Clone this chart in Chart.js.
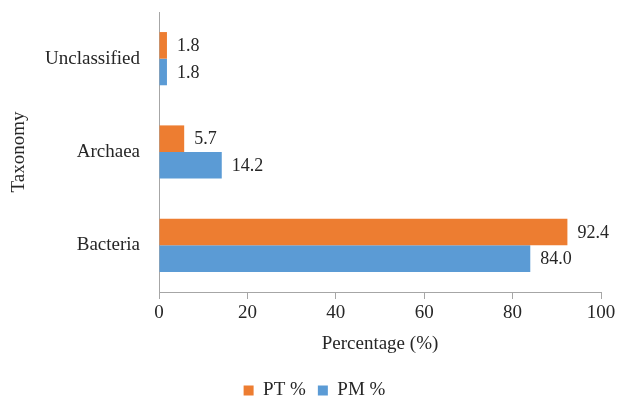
<!DOCTYPE html>
<html>
<head>
<meta charset="utf-8">
<script src="https://cdn.jsdelivr.net/npm/chart.js@4/dist/chart.umd.min.js"></script>
<style>
  html, body { margin: 0; padding: 0; background: #ffffff; }
  #wrap { width: 618px; height: 399px; }
</style>
</head>
<body>
<div id="wrap"><canvas id="chart" width="618" height="399"></canvas></div>
<script>
// Taxonomic composition, percentage of reads per sample group
const categories = ['Unclassified', 'Archaea', 'Bacteria'];
const ptValues = [1.8, 5.7, 92.4];
const pmValues = [1.8, 14.2, 84.0];
const xTicks = [0, 20, 40, 60, 80, 100];

const SERIF = '"Liberation Serif", "DejaVu Serif", serif';
const TEXT = '#262626';
const AXIS = '#a6a6a6';

// Writes each bar's value just past its end
const valueLabels = {
  id: 'valueLabels',
  afterDatasetsDraw(chart) {
    const ctx = chart.ctx;
    ctx.save();
    ctx.font = '18px ' + SERIF;
    ctx.fillStyle = TEXT;
    ctx.textAlign = 'left';
    ctx.textBaseline = 'middle';
    chart.data.datasets.forEach((ds, i) => {
      chart.getDatasetMeta(i).data.forEach((bar, j) => {
        ctx.fillText(ds.data[j].toFixed(1), bar.x + 10, bar.y + 1);
      });
    });
    ctx.restore();
  }
};

// Nudges the legend row so it sits centred under the plot rather than the canvas
const legendOffset = {
  id: 'legendOffset',
  afterLayout(chart) {
    const lg = chart.legend;
    if (lg) { lg.left += 14; lg.right += 14; }
  }
};

new Chart(document.getElementById('chart'), {
  type: 'bar',
  data: {
    labels: categories,
    datasets: [
      { label: 'PT %', data: ptValues, backgroundColor: '#ED7D31', borderWidth: 0 },
      { label: 'PM %', data: pmValues, backgroundColor: '#5B9BD5', borderWidth: 0 }
    ]
  },
  options: {
    indexAxis: 'y',
    responsive: false,
    animation: false,
    layout: { padding: { top: 12, right: 17, bottom: 0, left: 0 } },
    datasets: { bar: { barPercentage: 1.0, categoryPercentage: 0.57 } },
    scales: {
      x: {
        min: 0, max: 100,
        afterBuildTicks(scale) { scale.ticks = xTicks.map(v => ({ value: v })); },
        afterFit(scale) {
          scale.height = 77;
          scale.paddingLeft = 0;
          scale.paddingRight = 0;
        },
        grid: {
          display: true, drawOnChartArea: false, drawTicks: true,
          tickLength: 7, color: AXIS, lineWidth: 1
        },
        border: { display: true, color: AXIS, width: 1 },
        ticks: { color: TEXT, font: { family: SERIF, size: 19 }, padding: 3 },
        title: {
          display: true, text: 'Percentage (%)', color: TEXT,
          font: { family: SERIF, size: 19 }, padding: { top: 0, bottom: 14 }
        }
      },
      y: {
        afterFit(scale) {
          scale.width = 159;
          scale.paddingTop = 0;
          scale.paddingBottom = 0;
        },
        grid: { display: false, drawTicks: false },
        border: { display: true, color: AXIS, width: 1 },
        ticks: { color: TEXT, font: { family: SERIF, size: 19 }, padding: 19 },
        title: {
          display: true, text: 'Taxonomy', color: TEXT,
          font: { family: SERIF, size: 19 }, padding: { top: 8, bottom: 0 }
        }
      }
    },
    plugins: {
      legend: {
        position: 'bottom',
        maxHeight: 30,
        labels: {
          color: TEXT, font: { family: SERIF, size: 19 },
          boxWidth: 10, boxHeight: 10, padding: 12
        }
      },
      tooltip: { enabled: false }
    }
  },
  plugins: [valueLabels, legendOffset]
});
</script>
</body>
</html>
